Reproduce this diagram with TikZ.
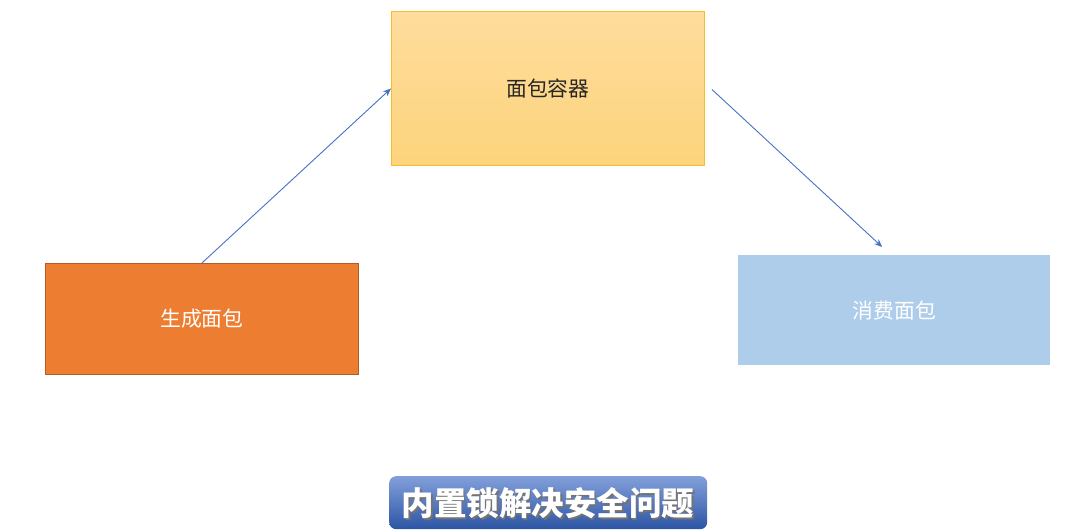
\documentclass[tikz,border=0pt]{standalone}
\usepackage{fontspec}
\newfontfamily\cjk{Noto Sans CJK SC}
\usetikzlibrary{arrows.meta,calc,shadings}
\definecolor{contTop}{HTML}{FEDC9C}
\definecolor{contBot}{HTML}{FDD47C}
\definecolor{contLine}{HTML}{F7BD2A}
\definecolor{prodFill}{HTML}{ED7D31}
\definecolor{prodLine}{HTML}{B05E24}
\definecolor{consFill}{HTML}{AECDEA}
\definecolor{arrowBlue}{HTML}{4472C4}
\definecolor{banTop}{HTML}{829FDA}
\definecolor{banBot}{HTML}{2D55A4}
\tikzset{
  boxtext/.style={font=\cjk\fontsize{20.8}{24}\selectfont},
  flow/.style={draw=arrowBlue, line width=0.9pt, -{Stealth[length=8pt,width=6.5pt]}},
  bantext/.style={font=\cjk\bfseries\fontsize{32.5}{36}\selectfont},
}
\begin{document}
\begin{tikzpicture}[x=1pt,y=-1pt]
\useasboundingbox (0,0) rectangle (1079,532);
% container
\node[draw=contLine, line width=0.9pt, top color=contTop, bottom color=contBot,
      minimum width=313pt, minimum height=154pt, inner sep=0pt, anchor=north west,
      boxtext, text=black!85] (cont) at (391,11) {面包容器};
% producer
\node[draw=prodLine, line width=0.9pt, fill=prodFill,
      minimum width=313pt, minimum height=111pt, inner sep=0pt, anchor=north west,
      boxtext, text=white] (prod) at (45,263) {生成面包};
% consumer
\node[fill=consFill, minimum width=312pt, minimum height=110pt, inner sep=0pt,
      anchor=north west, boxtext, text=white] (cons) at (738,255) {消费面包};
% arrows
\draw[flow] (prod.north) -- (cont.west);
\coordinate (c2s) at ($(cont.east)+(7,1)$);
\coordinate (c2e) at ($(cons.north)+(-12,-8)$);
\draw[flow] (c2s) -- (c2e);
% banner
\node[rounded corners=7pt, top color=banTop, bottom color=banBot,
      minimum width=318pt, minimum height=53pt, inner sep=0pt, anchor=north west] (ban) at (389,476) {};
\node[bantext, text=black!55] (banshadow) at ($(ban.center)+(1.5,2)$) {内置锁解决安全问题};
\node[bantext, text=white] (bantext) at (ban.center) {内置锁解决安全问题};
\end{tikzpicture}
\end{document}
